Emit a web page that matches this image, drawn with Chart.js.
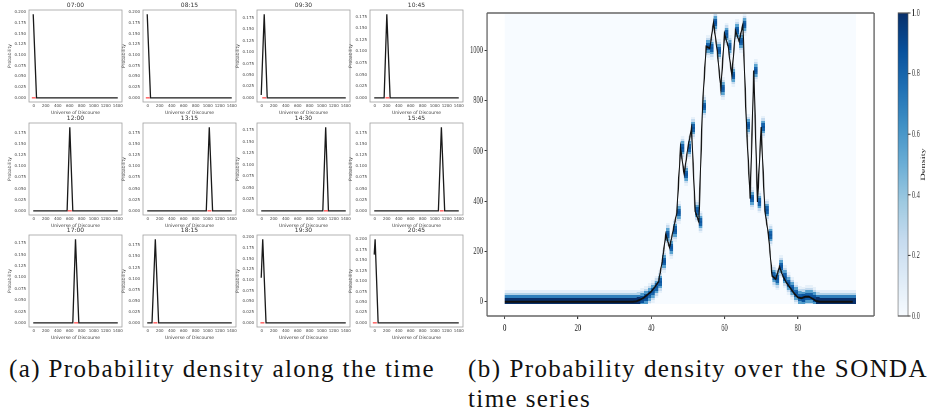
<!DOCTYPE html>
<html><head><meta charset="utf-8">
<script src="https://cdn.jsdelivr.net/npm/chart.js@4.4.1/dist/chart.umd.min.js"></script>
<style>
html,body{margin:0;padding:0;background:#fff;width:932px;height:409px;overflow:hidden;position:relative;}
canvas.sp{position:absolute;}
#main{position:absolute;left:468px;top:0;transform:scaleX(0.62);transform-origin:0 0;}
.cap{position:absolute;font-family:'Liberation Serif',serif;font-size:25px;line-height:30px;letter-spacing:1.4px;color:#111;white-space:nowrap;}
.cap .l1{display:block;text-align:justify;text-align-last:justify;}
</style></head><body>
<canvas id="main" width="748" height="340"></canvas>
<div class="cap" id="capA" style="left:0;width:444px;top:354px;text-align:center">(a) Probability density along the time</div>
<div class="cap" id="capB" style="left:468px;width:460px;top:354px;"><span class="l1">(b) Probability density over the SONDA</span>time series</div>
<script>
// ---------- (a) small panels: data ----------
const panelTimes = ['07:00','08:15','09:30','10:45','12:00','13:15','14:30','15:45','17:00','18:15','19:30','20:45'];
const startY    = [0.195,0.195,0.006,0,0,0,0,0,0,0,0.105,0.163];
const footLeft  = [null,null,null,155,555,975,1017,1060,650,70,null,null];
const peakX     = [-10,-10,40,200,600,1025,1065,1110,695,125,15,5];
const peakY     = [0.195,0.195,0.183,0.180,0.188,0.188,0.182,0.188,0.184,0.189,0.195,0.200];
const footRight = [45,45,90,255,650,1080,1111,1165,750,180,70,55];
const markX     = [0,0,40,210,600,1028,1070,1115,705,126,10,0];
const universe  = [-10, 1400];
const panelXTicks = [0,200,400,600,800,1000,1200,1400];
const panelYTicks = [0,0.025,0.05,0.075,0.1,0.125,0.15,0.175,0.2];

// ---------- (b) SONDA series (index 0..95) ----------
const seriesY = [
 0,0,0,0,0,0,0,0,0,0, 0,0,0,0,0,0,0,0,0,0, 0,0,0,0,0,0,0,0,0,0, 0,0,0,0,0,0,
 2,8,16,28,40,58,79,160,268,215,
 284,354,612,506,612,690,360,317,777,1015,
 1008,1111,999,847,1065,1015,900,1078,1035,1102,
 701,410,919,397,694,364,265,102,90,139,
 99,73,53,33,17,14,20,20,12,3,
 0,0,0,0,0,0,0,0,0,0
];
const seriesX = seriesY.map((_, i) => i);
const mainXTicks = [0,20,40,60,80];
const mainYTicks = [0,200,400,600,800,1000];
const colorbarTicks = [0,0.2,0.4,0.6,0.8,1.0];
const profileOffsets = [-40,-30,-20,-10,0,10,20,30,40];
const profileDensity = [0.08,0.25,0.55,0.8,0.85,0.8,0.55,0.25,0.08];
const binHalf = 5;
const heatExtentY = [-9, 1146];
const heatExtentX = [0, 96];

const bluesStops = ['#f7fbff','#deebf7','#c6dbef','#9ecae1','#6baed6','#4292c6','#2171b5','#08519c','#08306b'];
function hex(c){return [parseInt(c.slice(1,3),16),parseInt(c.slice(3,5),16),parseInt(c.slice(5,7),16)];}
function blues(t){
  t = Math.max(0, Math.min(1, t));
  const p = t * 8, i = Math.min(7, Math.floor(p)), f = p - i;
  const a = hex(bluesStops[i]), b = hex(bluesStops[i+1]);
  return 'rgb(' + a.map((v,k)=>Math.round(v + (b[k]-v)*f)).join(',') + ')';
}

Chart.defaults.font.family = 'DejaVu Sans';

// ---------- small panels ----------
const colLeft = [29,143,257,370], rowTop = [10,123,235];
const frameW = 93, frameH = 92, padL = 29, padT = 10;

const panelDecor = {
  id: 'panelDecor',
  afterDraw(chart, args, opts) {
    const {ctx, chartArea: a} = chart;
    ctx.save();
    ctx.strokeStyle = '#a0a0a0'; ctx.lineWidth = 0.8;
    ctx.strokeRect(a.left, a.top, a.right - a.left, a.bottom - a.top);
    ctx.fillStyle = '#333'; ctx.font = '6px "DejaVu Sans"';
    ctx.textAlign = 'center'; ctx.textBaseline = 'alphabetic';
    ctx.fillText(opts.title, (a.left + a.right) / 2, a.top - 2.8);
    ctx.restore();
  }
};

function curve(k) {
  const pts = [{x: universe[0], y: startY[k]}];
  if (footLeft[k] !== null) pts.push({x: footLeft[k], y: 0});
  if (peakX[k] > universe[0]) pts.push({x: peakX[k], y: peakY[k]});
  pts.push({x: footRight[k], y: 0});
  pts.push({x: universe[1], y: 0});
  return pts;
}

panelTimes.forEach((t, k) => {
  const r = Math.floor(k / 4), c = k % 4;
  const cv = document.createElement('canvas');
  cv.className = 'sp'; cv.width = padL + frameW + 8; cv.height = padT + frameH + 16;
  cv.style.left = (colLeft[c] - padL) + 'px'; cv.style.top = (rowTop[r] - padT) + 'px';
  document.body.appendChild(cv);
  const span = universe[1] - universe[0];
  const ymax = peakY[k] * 1.05, ymin = -peakY[k] * 0.05;
  const tickFont = {size: 4, family: 'DejaVu Sans'};
  new Chart(cv, {
    type: 'line',
    data: {datasets: [
      {data: [{x: markX[k], y: 0}], showLine: false, pointStyle: 'line', pointRadius: 2,
       borderColor: '#ff5a5a', backgroundColor: '#ff5a5a', pointBorderWidth: 1.4},
      {data: curve(k), borderColor: '#1a1a1a', borderWidth: 1.3, pointRadius: 0, tension: 0}
    ]},
    options: {
      responsive: false, animation: false, devicePixelRatio: 1, events: [],
      layout: {padding: {top: padT, right: 8, left: 0, bottom: 0}},
      plugins: {legend: {display: false}, tooltip: {enabled: false}, panelDecor: {title: t}},
      scales: {
        x: {type: 'linear', min: universe[0] - span * 0.05, max: universe[1] + span * 0.05,
            afterBuildTicks: s => { s.ticks = panelXTicks.map(v => ({value: v})); },
            afterFit: s => { s.height = 16; },
            grid: {display: false, drawTicks: false, tickLength: 0}, border: {display: false},
            ticks: {font: tickFont, color: '#444', padding: 2, maxRotation: 0, autoSkip: false, callback: v => String(v)},
            title: {display: true, text: 'Universe of Discourse', font: {size: 4.5}, color: '#444', padding: {top: 0, bottom: 2}}},
        y: {type: 'linear', min: ymin, max: ymax,
            afterBuildTicks: s => { s.ticks = panelYTicks.filter(v => v <= ymax + 1e-9).map(v => ({value: v})); },
            afterFit: s => { s.width = padL; },
            grid: {display: false, drawTicks: false, tickLength: 0}, border: {display: false},
            ticks: {font: tickFont, color: '#444', padding: 3, autoSkip: false, callback: v => v.toFixed(3)},
            title: {display: true, text: 'Probability', font: {size: 4.5}, color: '#444', padding: {top: 7.3, bottom: 0}}}
      }
    },
    plugins: [panelDecor]
  });
});

// ---------- (b) heatmap + line ----------
const SX = 0.62;
const cbLeft = (898 - 468) / SX, cbRight = (908 - 468) / SX, cbTop = 13, cbBottom = 316;
const serifFont = {family: 'Liberation Serif', size: 10.5};

const heatmap = {
  id: 'heatmap',
  beforeDatasetsDraw(chart) {
    const {ctx, chartArea: a, scales: {x, y}} = chart;
    ctx.save();
    ctx.beginPath(); ctx.rect(a.left, a.top, a.right - a.left, a.bottom - a.top); ctx.clip();
    const X = v => Math.round(x.getPixelForValue(v)), Y = v => Math.round(y.getPixelForValue(v));
    ctx.fillStyle = blues(0);
    ctx.fillRect(X(heatExtentX[0]), Y(heatExtentY[1]), X(heatExtentX[1]) - X(heatExtentX[0]), Y(heatExtentY[0]) - Y(heatExtentY[1]));
    const total = profileDensity.reduce((s, d) => s + d, 0);
    seriesY.forEach((v, i) => {
      const kept = profileOffsets.map((o, j) => ({o, d: profileDensity[j]}))
        .filter(e => v + e.o + binHalf > heatExtentY[0] && v + e.o - binHalf < heatExtentY[1]);
      const keptSum = kept.reduce((s, e) => s + e.d, 0);
      const scale = total / keptSum;
      const x0 = X(seriesX[i]), x1 = X(seriesX[i] + 1);
      kept.forEach(e => {
        const lo = Math.max(heatExtentY[0], v + e.o - binHalf), hi = Math.min(heatExtentY[1], v + e.o + binHalf);
        const y0 = Y(hi), y1 = Y(lo);
        if (y1 <= y0) return;
        ctx.fillStyle = blues(e.d * scale);
        ctx.fillRect(x0, y0, x1 - x0, y1 - y0);
      });
    });
    ctx.restore();
  },
  afterDraw(chart) {
    const {ctx, chartArea: a} = chart;
    ctx.save();
    ctx.strokeStyle = '#666';
    ctx.lineWidth = 1.3;
    ctx.beginPath(); ctx.moveTo(a.left, a.top); ctx.lineTo(a.right, a.top);
    ctx.moveTo(a.left, a.bottom); ctx.lineTo(a.right, a.bottom); ctx.stroke();
    ctx.lineWidth = 2.1;
    ctx.beginPath(); ctx.moveTo(a.left, a.top); ctx.lineTo(a.left, a.bottom);
    ctx.moveTo(a.right, a.top); ctx.lineTo(a.right, a.bottom); ctx.stroke();
    const g = ctx.createLinearGradient(0, cbBottom, 0, cbTop);
    bluesStops.forEach((c, i) => g.addColorStop(i / 8, c));
    ctx.fillStyle = g;
    ctx.fillRect(cbLeft, cbTop, cbRight - cbLeft, cbBottom - cbTop);
    ctx.strokeStyle = '#555'; ctx.lineWidth = 1.2;
    ctx.strokeRect(cbLeft, cbTop, cbRight - cbLeft, cbBottom - cbTop);
    ctx.fillStyle = '#222'; ctx.strokeStyle = '#333'; ctx.lineWidth = 1;
    ctx.font = '10.5px "Liberation Serif"';
    ctx.textAlign = 'left'; ctx.textBaseline = 'middle';
    colorbarTicks.forEach(t => {
      const py = cbBottom - t * (cbBottom - cbTop);
      ctx.beginPath(); ctx.moveTo(cbRight, py); ctx.lineTo(cbRight + 4, py); ctx.stroke();
      ctx.fillText(t.toFixed(1), cbRight + 6, py);
    });
    ctx.save();
    ctx.translate((923 - 468) / SX, (cbTop + cbBottom) / 2);
    ctx.rotate(-Math.PI / 2);
    ctx.textAlign = 'center'; ctx.textBaseline = 'middle';
    ctx.fillText('Density', 0, 0);
    ctx.restore();
    ctx.restore();
  }
};

new Chart(document.getElementById('main'), {
  type: 'line',
  data: {datasets: [{
    data: seriesX.map((x, i) => ({x, y: seriesY[i]})),
    borderColor: '#111', borderWidth: 2, pointRadius: 0, tension: 0
  }]},
  options: {
    responsive: false, animation: false, devicePixelRatio: 1, events: [],
    layout: {padding: {top: 13, right: 748 - (874 - 468) / SX, left: 0, bottom: 0}},
    plugins: {legend: {display: false}, tooltip: {enabled: false}},
    scales: {
      x: {type: 'linear', min: -4.8, max: 100.8,
          afterBuildTicks: s => { s.ticks = mainXTicks.map(v => ({value: v})); },
          afterFit: s => { s.height = 340 - 316; },
          grid: {display: true, drawOnChartArea: false, drawTicks: true, tickLength: 3, color: '#333', lineWidth: 1.6},
          border: {display: false},
          ticks: {font: serifFont, color: '#222', padding: 3, maxRotation: 0, autoSkip: false, callback: v => String(v)}},
      y: {type: 'linear', min: -57, max: 1148,
          afterBuildTicks: s => { s.ticks = mainYTicks.map(v => ({value: v})); },
          afterFit: s => { s.width = (487 - 468) / SX; },
          grid: {display: true, drawOnChartArea: false, drawTicks: true, tickLength: 4, color: '#333', lineWidth: 1},
          border: {display: false},
          ticks: {font: serifFont, color: '#222', padding: 2.4, autoSkip: false, callback: v => String(v)}}
    }
  },
  plugins: [heatmap]
});
</script>
</body></html>
